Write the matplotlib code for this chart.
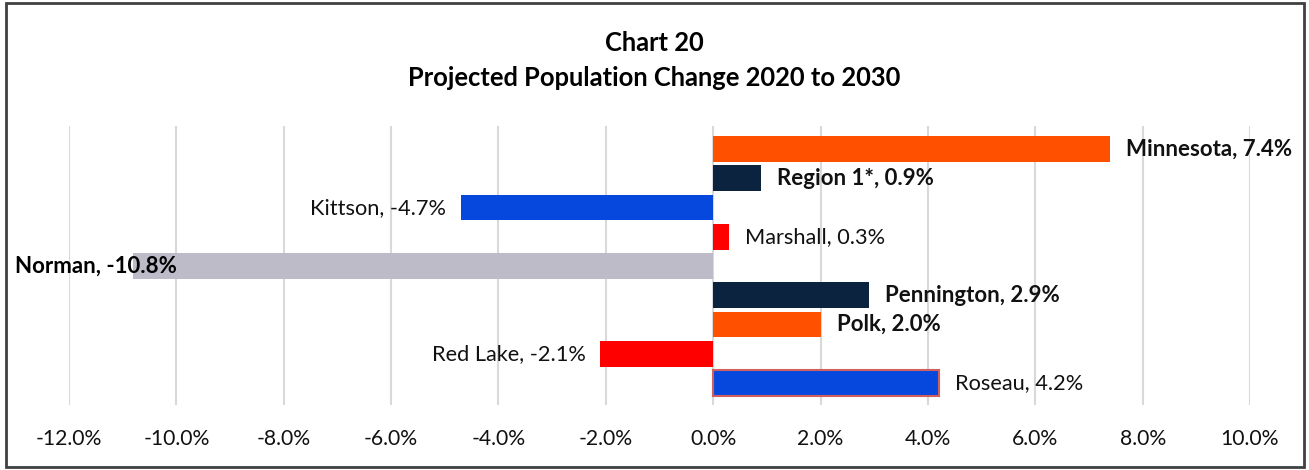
import matplotlib.pyplot as plt
from matplotlib.patches import Rectangle

# data
areas = ['Minnesota', 'Region 1*', 'Kittson', 'Marshall', 'Norman',
         'Pennington', 'Polk', 'Red Lake', 'Roseau']
change = [7.4, 0.9, -4.7, 0.3, -10.8, 2.9, 2.0, -2.1, 4.2]
bold_label = [True, True, False, False, True, True, True, False, False]
colors = ['#FF5000', '#0C2340', '#0648DE', '#FF0000', '#BCBBC7',
          '#0C2340', '#FF5000', '#FF0000', '#0648DE']
ticks = [-12, -10, -8, -6, -4, -2, 0, 2, 4, 6, 8, 10]

plt.rcParams['font.family'] = ['Lato', 'DejaVu Sans']

W, H = 1309, 470
fig = plt.figure(figsize=(W / 100, H / 100), dpi=100)
ax = fig.add_axes([69 / W, 1 - 405 / H, (1250 - 69) / W, (405 - 126) / H])

ypos = list(range(len(areas)))
bars = ax.barh(ypos, change, height=0.88, color=colors, zorder=3)
# Roseau bar has a reddish outline
bars[-1].set_edgecolor('#D06060')
bars[-1].set_linewidth(1.5)

ax.set_xlim(-12, 10)
ax.set_ylim(8.75, -0.79)
ax.set_xticks(ticks)
ax.set_xticklabels([f'{t:.1f}%' for t in ticks])
ax.set_yticks([])
ax.tick_params(axis='x', length=0, pad=17, labelsize=15.2, labelcolor='#111111')
ax.grid(axis='x', color='#D9D9D9', linewidth=1.5, zorder=0)
for s in ax.spines.values():
    s.set_visible(False)

for i, (name, v, b) in enumerate(zip(areas, change, bold_label)):
    txt = f'{name}, {v:.1f}%'
    weight = 'bold' if b else 'normal'
    fs = 16 if b else 15.7
    if v < -10:
        # label clipped to the chart edge, like the original
        ax.annotate(txt, xy=(15 / W, i), xycoords=('figure fraction', 'data'),
                    ha='left', va='center', fontsize=fs, fontweight=weight,
                    color='#000000', zorder=4)
    elif v < 0:
        ax.annotate(txt, xy=(v, i), xytext=(-15, 0), textcoords='offset pixels',
                    ha='right', va='center', fontsize=fs, fontweight=weight,
                    color='#111111')
    else:
        ax.annotate(txt, xy=(v, i), xytext=(16, 0), textcoords='offset pixels',
                    ha='left', va='center', fontsize=fs, fontweight=weight,
                    color='#111111')

fig.text(0.5, 1 - 43 / H, 'Chart 20', ha='center', va='center',
         fontsize=18.4, fontweight='bold')
fig.text(0.5, 1 - 78 / H, 'Projected Population Change 2020 to 2030',
         ha='center', va='center', fontsize=18.4, fontweight='bold')

# outer chart border
fig.patches.append(Rectangle((6 / W, 3 / H), (1304 - 6) / W, (467 - 3) / H,
                             transform=fig.transFigure, fill=False,
                             edgecolor='#404040', linewidth=2))

fig.savefig('out.png', dpi=100)
